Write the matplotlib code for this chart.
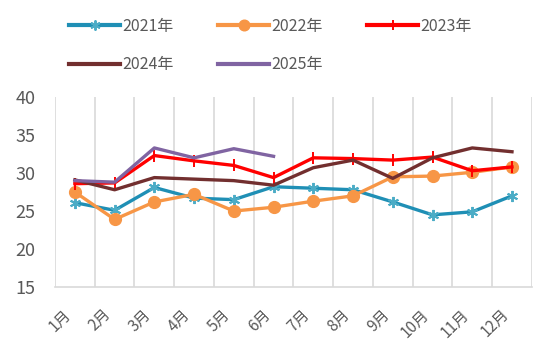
import matplotlib.pyplot as plt
from matplotlib.transforms import ScaledTranslation

plt.rcParams['font.family'] = ['Noto Sans CJK SC', 'DejaVu Sans']

months = ['1月', '2月', '3月', '4月', '5月', '6月', '7月', '8月', '9月', '10月', '11月', '12月']
y2021 = [26.1, 25.1, 28.1, 26.7, 26.5, 28.2, 28.0, 27.8, 26.2, 24.5, 24.9, 27.0]
y2022 = [27.5, 23.9, 26.2, 27.2, 25.0, 25.5, 26.3, 27.0, 29.5, 29.6, 30.1, 30.8]
y2023 = [28.6, 28.7, 32.3, 31.6, 31.0, 29.4, 32.0, 31.9, 31.7, 32.1, 30.3, 30.8]
y2024 = [29.1, 27.8, 29.4, 29.2, 29.0, 28.4, 30.7, 31.7, 29.3, 32.0, 33.3, 32.8]
y2025 = [29.0, 28.8, 33.3, 32.0, 33.2, 32.2]

x = list(range(1, 13))

fig = plt.figure(figsize=(5.5, 3.54), dpi=100)
ax = fig.add_axes([0.1, 0.189, 0.867, 0.537])

l21, = ax.plot(x, y2021, color='#1F8FB5', lw=2.4, marker=(6, 2, 0), ms=8,
               mec='#4BACC6', mew=1.4, label='2021年', zorder=3)
l22, = ax.plot(x, y2022, color='#F79646', lw=2.4, marker='o', ms=8.5,
               label='2022年', zorder=3)
l23, = ax.plot(x, y2023, color='#FF0000', lw=2.4, marker='|', ms=8, mew=1.4,
               label='2023年', zorder=4)
l24, = ax.plot(x, y2024, color='#722F2F', lw=2.4, label='2024年', zorder=4)
l25, = ax.plot(x[:len(y2025)], y2025, color='#8064A2', lw=2.4, label='2025年', zorder=5)

ax.set_xlim(0.5, 12.5)
ax.set_ylim(15, 40)
ax.set_yticks([15, 20, 25, 30, 35, 40])
ax.set_xticks(x)
ax.set_xticklabels(months, rotation=45, ha='right', rotation_mode='anchor')

# vertical grid lines between categories
for b in range(13):
    ax.axvline(b + 0.5, color='#D9D9D9', lw=1.2, zorder=1)

for s in ['top', 'right', 'left']:
    ax.spines[s].set_visible(False)
ax.spines['bottom'].set_color('#D9D9D9')
ax.spines['bottom'].set_linewidth(1.2)

ax.tick_params(axis='both', length=0, colors='#595959')
ax.tick_params(axis='y', labelsize=13, pad=14)
ax.tick_params(axis='x', labelsize=11, pad=12)

# nudge month labels left like the original
shift = ScaledTranslation(-12 / 100, -2 / 100, fig.dpi_scale_trans)
for lab in ax.get_xticklabels():
    lab.set_transform(lab.get_transform() + shift)

# row-major legend order: 2021 2022 2023 / 2024 2025
handles = [l21, l24, l22, l25, l23]
leg = fig.legend(handles=handles, labels=[h.get_label() for h in handles],
                 loc='upper left', bbox_to_anchor=(0.1, 0.99), ncol=3, frameon=False,
                 fontsize=11.5, labelcolor='#595959', handlelength=3.2, handletextpad=0.1,
                 columnspacing=2.8, labelspacing=1.35, markerscale=0.9)
for h in leg.get_lines():
    h.set_linewidth(3)

plt.savefig('out.png', dpi=100)
